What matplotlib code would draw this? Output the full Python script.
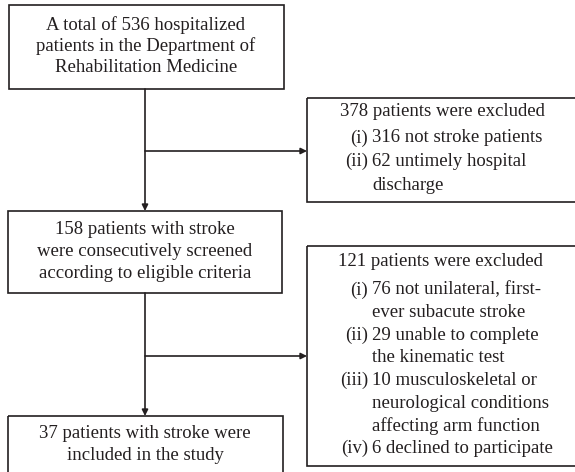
import matplotlib
matplotlib.use('Agg')
import matplotlib.pyplot as plt
from matplotlib.patches import Rectangle

# box texts
top_lines = ['A total of 536 hospitalized', 'patients in the Department of',
             'Rehabilitation Medicine']
screen_lines = ['158 patients with stroke', 'were consecutively screened',
                'according to eligible criteria']
final_lines = ['37 patients with stroke were', 'included in the study']

excl1_header = '378 patients were excluded'
excl1_labels = ['(i)', '(ii)']
excl1_items = [['316 not stroke patients'],
               ['62 untimely hospital', 'discharge']]

excl2_header = '121 patients were excluded'
excl2_labels = ['(i)', '(ii)', '(iii)', '(iv)']
excl2_items = [['76 not unilateral, first-', 'ever subacute stroke'],
               ['29 unable to complete', 'the kinematic test'],
               ['10 musculoskeletal or', 'neurological conditions',
                'affecting arm function'],
               ['6 declined to participate']]

INK = '#231f20'
FONT = 'Liberation Serif'
FS = 13.5

fig = plt.figure(figsize=(5.75, 4.72), dpi=100)
ax = fig.add_axes([0, 0, 1, 1])
ax.set_xlim(0, 575)
ax.set_ylim(472, 0)
ax.axis('off')


def box(x0, y0, x1, y1):
    ax.add_patch(Rectangle((x0, y0), x1 - x0, y1 - y0, fill=False,
                           edgecolor=INK, linewidth=1.2, clip_on=True))


def centered(lines, xc, y0, step):
    for i, s in enumerate(lines):
        ax.text(xc, y0 + i * step, s, ha='center', va='center',
                fontsize=FS, family=FONT, color=INK)


def listing(header, labels, items, xc, y_head, y0, step, xt=372):
    ax.text(xc, y_head, header, ha='center', va='center',
            fontsize=FS, family=FONT, color=INK)
    y = y0
    for lab, lines in zip(labels, items):
        ax.text(xt - 4, y, lab, ha='right', va='center',
                fontsize=FS, family=FONT, color=INK)
        for s in lines:
            ax.text(xt, y, s, ha='left', va='center',
                    fontsize=FS, family=FONT, color=INK)
            y += step


def arrow(x0, y0, x1, y1):
    ax.annotate('', xy=(x1, y1), xytext=(x0, y0),
                arrowprops=dict(arrowstyle='-|>', color=INK, lw=1.2,
                                mutation_scale=9, shrinkA=0, shrinkB=0))


# main boxes
box(9, 5, 284, 89)
centered(top_lines, 146, 25, 21.5)
box(8, 211, 282, 293)
centered(screen_lines, 145, 230, 21.5)
box(8, 416, 283, 480)
centered(final_lines, 145, 433, 22)

# exclusion boxes
box(307, 98, 580, 202)
listing(excl1_header, excl1_labels, excl1_items, 442, 112, 138, 23.5)
box(307, 246, 580, 466)
listing(excl2_header, excl2_labels, excl2_items, 440, 262, 290, 22.6)

# connectors
arrow(145, 89, 145, 211)
arrow(145, 151, 307, 151)
arrow(145, 293, 145, 416)
arrow(145, 356, 307, 356)

fig.savefig('out.png', dpi=100)
